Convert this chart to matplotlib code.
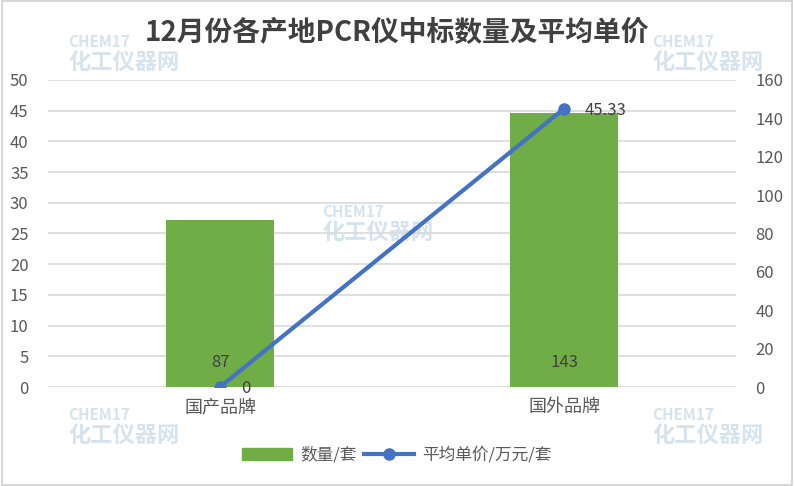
import matplotlib
matplotlib.use("Agg")
import matplotlib.pyplot as plt
from matplotlib.patches import Rectangle

plt.rcParams['font.family'] = ['Noto Sans CJK SC', 'DejaVu Sans']

categories = ["国产品牌", "国外品牌"]
quantity = [87, 143]          # 数量/套 (right axis)
avg_price = [0, 45.33]        # 平均单价/万元/套 (left axis)
price_labels = ["0", "45.33"]

bar_color = "#70AD47"
line_color = "#4472C4"
text_color = "#595959"
grid_color = "#D9D9D9"

fig = plt.figure(figsize=(7.94, 4.86), dpi=100)
fig.patches.append(Rectangle((0.002, 0.003), 0.996, 0.994, transform=fig.transFigure,
                             fill=False, edgecolor="#D0D0D0", linewidth=1.2))

ax = fig.add_axes([48 / 794, 1 - 387 / 486, 688 / 794, 307 / 486])
ax2 = ax.twinx()
ax2.patch.set_visible(False)

x = list(range(len(categories)))

# bars on the right axis
ax2.bar(x, quantity, width=0.315, color=bar_color, zorder=2)
for xi, q in zip(x, quantity):
    ax2.text(xi, 13, str(q), ha="center", va="center", fontsize=12, color="#404040", zorder=5)

# line on the left axis
ax.set_zorder(ax2.get_zorder() + 1)
ax.patch.set_visible(False)
ax.plot(x, avg_price, color=line_color, linewidth=3, marker="o", markersize=8, zorder=4)
for xi, p, lab in zip(x, avg_price, price_labels):
    ax.text(xi + 0.06, p - 0.3, lab, ha="left", va="center", fontsize=12, color="#404040")

ax.set_xlim(-0.5, 1.5)
ax.set_ylim(0, 50)
ax.set_yticks(range(0, 51, 5))
ax2.set_ylim(0, 160)
ax2.set_yticks(range(0, 161, 20))
ax.set_xticks(x)
ax.set_xticklabels(categories, fontsize=13)

for a in (ax, ax2):
    for s in a.spines.values():
        s.set_visible(False)
    a.tick_params(axis="y", length=0, labelsize=12, colors=text_color, pad=14)
ax.tick_params(axis="x", length=0, labelsize=13, colors=text_color, pad=8)
for v in range(0, 51, 5):
    ax2.axhline(v * 160 / 50, color=grid_color, linewidth=1.2, zorder=0)

fig.text(0.5, 1 - 33 / 486, "12月份各产地PCR仪中标数量及平均单价", ha="center", va="center",
         fontsize=20, fontweight="bold", color="#404040")

# watermarks (behind everything)
for wx, wy in [(68, 52), (652, 52), (322, 222), (68, 425), (652, 425)]:
    fig.text(wx / 794, 1 - (wy - 10) / 486, "CHEM17", fontsize=11, fontweight="bold",
             color="#D5E3EE", va="center", zorder=-1)
    fig.text(wx / 794, 1 - (wy + 10) / 486, "化工仪器网", fontsize=16, fontweight="bold",
             color="#D5E3EE", va="center", zorder=-1)

# legend
h1 = Rectangle((0, 0), 1, 1, color=bar_color)
h2, = ax.plot([], [], color=line_color, linewidth=3, marker="o", markersize=8)
fig.legend([h1, h2], ["数量/套", "平均单价/万元/套"], loc="center", bbox_to_anchor=(0.5, 1 - 455 / 486),
           ncol=2, frameon=False, fontsize=12, labelcolor=text_color, handlelength=3,
           columnspacing=0.4, handletextpad=0.5)

fig.savefig("out.png", dpi=100)
